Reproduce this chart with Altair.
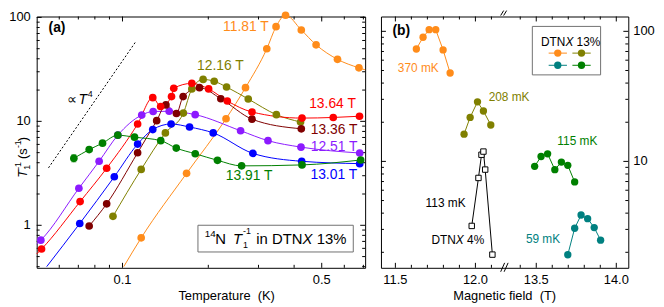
import altair as alt
import pandas as pd

FONT = "Liberation Sans"
ONE = pd.DataFrame({"k": [0]})

# ---------------- panel (a): 14N T1^-1 vs temperature ----------------
series_a = ["11.81 T", "12.16 T", "12.51 T", "13.01 T", "13.36 T", "13.64 T", "13.91 T"]
colors_a = ["#ff8c1a", "#808000", "#8c1aff", "#0000ff", "#800000", "#ff0000", "#008000"]

T_1181 = [0.1163, 0.1678, 0.2308, 0.2701, 0.3208, 0.3457, 0.3733, 0.4239, 0.4777, 0.5679, 0.6752]
R_1181 = [0.757, 3.16, 10.6, 21.1, 49.9, 81.5, 105.0, 75.7, 54.5, 39.5, 32.7]
T_1216 = [0.0926, 0.1163, 0.1414, 0.1635, 0.1751, 0.1918, 0.2098, 0.2318, 0.2762, 0.3466, 0.4213]
R_1216 = [1.22, 3.45, 7.74, 12.0, 20.5, 25.3, 24.3, 21.4, 16.4, 11.6, 9.85]
T_1251 = [0.0517, 0.0703, 0.0828, 0.0963, 0.1168, 0.1281, 0.1458, 0.1799, 0.2596, 0.3239, 0.4229, 0.6795]
R_1251 = [0.72, 2.27, 4.13, 7.36, 11.5, 12.45, 12.5, 11.6, 8.12, 6.52, 5.65, 4.96]
T_1301 = [0.0708, 0.0936, 0.1130, 0.1277, 0.1481, 0.1719, 0.2081, 0.2867, 0.4253, 0.6795]
R_1301 = [1.04, 2.93, 6.04, 8.34, 9.43, 8.82, 7.74, 4.92, 4.13, 3.92]
T_1336 = [0.0764, 0.0880, 0.1130, 0.1318, 0.1420, 0.1546, 0.1632, 0.1862, 0.2213, 0.2847, 0.4239]
R_1336 = [0.985, 1.61, 4.99, 10.15, 14.4, 11.9, 17.3, 21.1, 16.5, 10.5, 8.48]
T_1364 = [0.0520, 0.0710, 0.0880, 0.1130, 0.1277, 0.1361, 0.1486, 0.1513, 0.1751, 0.2005, 0.2332, 0.2847, 0.4264, 0.5487, 0.6784]
R_1364 = [0.591, 1.69, 3.54, 9.43, 16.9, 13.9, 17.3, 20.8, 23.2, 20.5, 15.7, 12.3, 10.75, 10.9, 11.2]
T_1391 = [0.0675, 0.0764, 0.0851, 0.0963, 0.1102, 0.1362, 0.1544, 0.1800, 0.2154, 0.2617, 0.4264, 0.6849]
R_1391 = [4.41, 5.35, 6.17, 7.36, 7.04, 6.52, 5.53, 4.88, 4.22, 3.73, 3.81, 4.25]

# error bar on first 13.91 T point
err_T = [0.0675]
err_lo = [4.08]
err_hi = [4.77]

# where the drawn curves leave the frame
curve_start_T = {"11.81 T": 0.101, "12.51 T": 0.05, "13.01 T": 0.0542, "13.64 T": 0.05}
curve_start_R = {"11.81 T": 0.40, "12.51 T": 0.66, "13.01 T": 0.40, "13.64 T": 0.53}
curve_end_T = {"11.81 T": 0.71}
curve_end_R = {"11.81 T": 31.3}

# dotted T^4 guide (end points)
guide_T = [0.055, 0.111]
guide_R = [3.57, 57.8]

# axis ticks and labels
xa_major = [0.1, 0.5]
xa_labels = ["0.1", "0.5"]
xa_minor = [0.06, 0.07, 0.08, 0.09, 0.2, 0.3, 0.4, 0.6, 0.7]
ya_major = [1, 10, 100]
ya_labels = ["1", "10", "100"]
ya_minor = [0.4, 0.5, 0.6, 0.7, 0.8, 0.9, 2, 3, 4, 5, 6, 7, 8, 9, 20, 30, 40, 50, 60, 70, 80, 90]

# ---------------- panel (b): T1^-1 vs field ----------------
series_b = ["370 mK", "208 mK", "115 mK", "59 mK", "DTNX 4% 113 mK"]
colors_b = ["#ff8c1a", "#808000", "#008000", "#008080", "#000000"]
B_370 = [11.631, 11.673, 11.711, 11.752, 11.798, 11.842]
R_370 = [73.2, 90.0, 103.0, 103.0, 72.0, 47.8]
B_208 = [11.929, 11.967, 12.013, 12.050, 12.096]
R_208 = [16.2, 21.8, 28.7, 24.4, 19.05]
B_115 = [13.490, 13.530, 13.571, 13.616, 13.657, 13.697, 13.740]
R_115 = [9.16, 10.9, 11.44, 8.64, 9.88, 9.32, 6.95]
B_59 = [13.697, 13.740, 13.780, 13.821, 13.862, 13.902]
R_59 = [1.915, 3.06, 3.87, 3.63, 3.10, 2.48]
B_4pc = [11.977, 12.019, 12.038, 12.050, 12.061, 12.106]
R_4pc = [3.19, 7.46, 11.25, 11.9, 8.65, 1.92]

xb_major = [11.5, 12.0, 13.5, 14.0]
xb_labels = ["11.5", "12.0", "13.5", "14.0"]
xb_minor = [11.6, 11.7, 11.8, 11.9, 12.1, 13.4, 13.6, 13.7, 13.8, 13.9]
yb_major = [10, 100]
yb_labels = ["10", "100"]
yb_minor = [2, 3, 4, 5, 6, 7, 8, 9, 20, 30, 40, 50, 60, 70, 80, 90]
SHIFT = 1.12  # width of the cut-out field range

# ---------------- build tables ----------------
a_T = [T_1181, T_1216, T_1251, T_1301, T_1336, T_1364, T_1391]
a_R = [R_1181, R_1216, R_1251, R_1301, R_1336, R_1364, R_1391]
rows, lrows = [], []
for s, ts, rs in zip(series_a, a_T, a_R):
    for t, r in zip(ts, rs):
        rows.append({"s": s, "T": t, "R": r})
    pts = list(zip(ts, rs))
    if s in curve_start_T:
        pts = [(curve_start_T[s], curve_start_R[s])] + pts
    if s in curve_end_T:
        pts = pts + [(curve_end_T[s], curve_end_R[s])]
    for t, r in pts:
        lrows.append({"s": s, "T": t, "R": r})
df_a = pd.DataFrame(rows)
df_al = pd.DataFrame(lrows)
df_err = pd.DataFrame({"T": err_T, "lo": err_lo, "hi": err_hi})
df_guide = pd.DataFrame({"T": guide_T, "R": guide_R})

b_B = [B_370, B_208, B_115, B_59, B_4pc]
b_R = [R_370, R_208, R_115, R_59, R_4pc]
brows = []
for s, bs, rs in zip(series_b, b_B, b_R):
    for b, r in zip(bs, rs):
        brows.append({"sb": s, "B": b, "RB": r})
df_b = pd.DataFrame(brows)

W_A, W_B, H = 332, 250, 254
xA = alt.Scale(type="log", domain=[0.05, 0.71], nice=False)
yA = alt.Scale(type="log", domain=[0.39, 102], nice=False)
xB = alt.Scale(domain=[11.41, 12.955], nice=False, zero=False)
yB = alt.Scale(type="log", domain=[1.52, 130], nice=False)
CUT = f"datum.v > 13 ? datum.v - {SHIFT} : datum.v"


def tick_layer(vals, ch, scale, side, length, W, fx, fy, calc=None):
    c = alt.Chart(pd.DataFrame({"v": vals}))
    if calc:
        c = c.transform_calculate(**{fx: calc})
    else:
        c = c.transform_calculate(**{(fx if ch == "x" else fy): "datum.v"})
    if ch == "x":
        enc = {"x": alt.X(f"{fx}:Q", scale=scale, axis=None)}
        if side == "top":
            enc.update(y=alt.value(0), y2=alt.value(length))
        else:
            enc.update(y=alt.value(H), y2=alt.value(H - length))
    else:
        enc = {"y": alt.Y(f"{fy}:Q", scale=scale, axis=None)}
        if side == "left":
            enc.update(x=alt.value(0), x2=alt.value(length))
        else:
            enc.update(x=alt.value(W), x2=alt.value(W - length))
    return c.mark_rule(color="black", strokeWidth=1).encode(**enc)


def all_ticks(xmaj, xmin, ymaj, ymin, xs, ys, W, fx, fy, calc=None):
    out = []
    for side in ["top", "bottom"]:
        out.append(tick_layer(xmaj, "x", xs, side, 5, W, fx, fy, calc))
        out.append(tick_layer(xmin, "x", xs, side, 3, W, fx, fy, calc))
    for side in ["left", "right"]:
        out.append(tick_layer(ymaj, "y", ys, side, 5, W, fx, fy))
        out.append(tick_layer(ymin, "y", ys, side, 3, W, fx, fy))
    return out


def tick_labels(vals, labels, ch, scale, field, pos, align, calc=None):
    c = alt.Chart(pd.DataFrame({"v": vals, "lab": labels}))
    c = c.transform_calculate(**{field: calc if calc else "datum.v"})
    mk = c.mark_text(font=FONT, fontSize=13, color="black", align=align, baseline="middle")
    if ch == "x":
        return mk.encode(x=alt.X(f"{field}:Q", scale=scale, axis=None), y=alt.value(pos),
                         text="lab:N")
    return mk.encode(y=alt.Y(f"{field}:Q", scale=scale, axis=None), x=alt.value(pos),
                     text="lab:N")


def txt(text, x, y, color="black", size=14, align="center", baseline="middle",
        style="normal", weight="normal", angle=0, dx=0, dy=0):
    return alt.Chart(ONE).mark_text(
        text=text, color=color, fontSize=size, font=FONT, align=align,
        baseline=baseline, fontStyle=style, fontWeight=weight, angle=angle,
        dx=dx, dy=dy).encode(x=alt.value(x), y=alt.value(y))


def box(x1, y1, x2, y2):
    return alt.Chart(ONE).mark_rect(fill="white", stroke="#707070", strokeWidth=1).encode(
        x=alt.value(x1), x2=alt.value(x2), y=alt.value(y1), y2=alt.value(y2))


def seg(x1, y1, x2, y2, color="black"):
    return alt.Chart(ONE).mark_rule(color=color, strokeWidth=1).encode(
        x=alt.value(x1), x2=alt.value(x2), y=alt.value(y1), y2=alt.value(y2))


def dot(x, y, color):
    return alt.Chart(ONE).mark_circle(size=55, opacity=1, color=color).encode(
        x=alt.value(x), y=alt.value(y))


colA = alt.Color("s:N", scale=alt.Scale(domain=series_a, range=colors_a), legend=None)
colB = alt.Color("sb:N", scale=alt.Scale(domain=series_b, range=colors_b), legend=None)

# ---------- panel (a) layers ----------
pts_a = alt.Chart(df_a).mark_circle(size=60, opacity=1).encode(
    x=alt.X("T:Q", scale=xA, axis=None), y=alt.Y("R:Q", scale=yA, axis=None), color=colA)
guide = alt.Chart(df_guide).mark_line(color="black", strokeWidth=1, strokeDash=[2, 2]).encode(
    x=alt.X("T:Q", scale=xA, axis=None), y=alt.Y("R:Q", scale=yA, axis=None))
lines_a = alt.Chart(df_al).mark_line(strokeWidth=1, interpolate="monotone").encode(
    x=alt.X("T:Q", scale=xA, axis=None), y=alt.Y("R:Q", scale=yA, axis=None), color=colA,
    detail="s:N")
err = alt.Chart(df_err).mark_rule(color="#008000", strokeWidth=1).encode(
    x=alt.X("T:Q", scale=xA, axis=None), y=alt.Y("lo:Q", scale=yA, axis=None), y2="hi:Q")
cap_lo = alt.Chart(df_err).mark_tick(color="#008000", orient="horizontal", size=5, thickness=1).encode(
    x=alt.X("T:Q", scale=xA, axis=None), y=alt.Y("lo:Q", scale=yA, axis=None))
cap_hi = alt.Chart(df_err).mark_tick(color="#008000", orient="horizontal", size=5, thickness=1).encode(
    x=alt.X("T:Q", scale=xA, axis=None), y=alt.Y("hi:Q", scale=yA, axis=None))

texts_a = [
    txt("(a)", 20.5, 12, size=14, weight="bold"),
    txt("11.81 T", 211.5, 11, color=colors_a[0]),
    txt("12.16 T", 185.7, 50.3, color=colors_a[1]),
    txt("13.64 T", 299, 88.7, color=colors_a[5]),
    txt("13.36 T", 300.7, 114.3, color=colors_a[4]),
    txt("12.51 T", 300.7, 132, color=colors_a[2]),
    txt("13.01 T", 300.3, 160.3, color=colors_a[3]),
    txt("13.91 T", 214.8, 161.7, color=colors_a[6]),
    # proportional-to T^4 note
    txt("\u221d", 30.7, 88, size=14, align="left", baseline="alphabetic"),
    txt("T", 42.3, 88, size=14, align="left", baseline="alphabetic", style="italic"),
    txt("4", 51.5, 81, size=9, align="left", baseline="alphabetic"),
    # boxed caption
    box(163, 211, 320, 238),
    txt("14", 170, 223, size=10, align="left", baseline="alphabetic"),
    txt("N", 180.5, 230.4, size=15, align="left", baseline="alphabetic"),
    txt("T", 198.5, 230.4, size=15, align="left", baseline="alphabetic", style="italic"),
    txt("1", 208.5, 233.5, size=9, align="left", baseline="alphabetic"),
    txt("-1", 208.5, 220, size=9, align="left", baseline="alphabetic"),
    txt("in DTN", 222, 230.4, size=15, align="left", baseline="alphabetic"),
    txt("X", 268.7, 230.4, size=15, align="left", baseline="alphabetic", style="italic"),
    txt("13%", 283, 230.4, size=15, align="left", baseline="alphabetic"),
    # y-axis title (rotated)
    txt("T", -10, 163, size=13, align="left", baseline="alphabetic", style="italic", angle=270),
    txt("1", -10, 163, size=9, align="left", baseline="alphabetic", angle=270, dx=8, dy=3),
    txt("-1", -10, 163, size=9, align="left", baseline="alphabetic", angle=270, dx=8, dy=-6),
    txt("(s", -10, 163, size=13, align="left", baseline="alphabetic", angle=270, dx=19),
    txt("-1", -10, 163, size=9, align="left", baseline="alphabetic", angle=270, dx=30, dy=-6),
    txt(")", -10, 163, size=13, align="left", baseline="alphabetic", angle=270, dx=37),
    # x-axis title
    txt("Temperature\u00a0 (K)", 192, 283, size=13),
]

panel_a = alt.layer(
    *all_ticks(xa_major, xa_minor, ya_major, ya_minor, xA, yA, W_A, "T", "R"),
    tick_labels(xa_major, xa_labels, "x", xA, "T", H + 12, "center"),
    tick_labels(ya_major, ya_labels, "y", yA, "R", -6, "right"),
    guide, lines_a, err, cap_lo, cap_hi, pts_a, *texts_a,
).properties(width=W_A, height=H)

# ---------- panel (b) layers ----------
base_b = alt.Chart(df_b).transform_calculate(u=f"datum.B > 13 ? datum.B - {SHIFT} : datum.B")
lines_b = base_b.mark_line(strokeWidth=1).encode(
    x=alt.X("u:Q", scale=xB, axis=None), y=alt.Y("RB:Q", scale=yB, axis=None), color=colB,
    detail="sb:N")
pts_b = base_b.transform_filter(f"datum.sb != '{series_b[4]}'").mark_circle(size=55, opacity=1).encode(
    x=alt.X("u:Q", scale=xB, axis=None), y=alt.Y("RB:Q", scale=yB, axis=None), color=colB)
sq_b = base_b.transform_filter(f"datum.sb == '{series_b[4]}'").mark_point(
    shape="square", size=30, fill="white", stroke="black", strokeWidth=1, opacity=1, filled=False).encode(
    x=alt.X("u:Q", scale=xB, axis=None), y=alt.Y("RB:Q", scale=yB, axis=None))

texts_b = [
    txt("(b)", 20.5, 14.3, size=14, weight="bold"),
    txt("370 mK", 37.7, 51.7, color=colors_b[0], size=12),
    txt("208 mK", 129.5, 81, color=colors_b[1], size=12),
    txt("115 mK", 198.5, 126, color=colors_b[2], size=12),
    txt("59 mK", 163.8, 225.3, color=colors_b[3], size=12),
    txt("113 mK", 65.3, 188.3, size=12),
    txt("DTN", 51, 230.3, size=12, align="left", baseline="alphabetic"),
    txt("X", 75.7, 230.3, size=12, align="left", baseline="alphabetic", style="italic"),
    txt("4%", 87, 230.3, size=12, align="left", baseline="alphabetic"),
    # legend
    box(153, 10, 222, 59),
    txt("DTN", 161.7, 29.3, size=12, align="left", baseline="alphabetic"),
    txt("X", 186.4, 29.3, size=12, align="left", baseline="alphabetic", style="italic"),
    txt("13%", 197.7, 29.3, size=12, align="left", baseline="alphabetic"),
    seg(169.5, 37, 188, 37, colors_b[0]), dot(178.7, 37, colors_b[0]),
    seg(193.5, 37, 212, 37, colors_b[1]), dot(202.7, 37, colors_b[1]),
    seg(169.5, 49.3, 188, 49.3, colors_b[3]), dot(178.7, 49.3, colors_b[3]),
    seg(193.5, 49.3, 212, 49.3, colors_b[2]), dot(202.7, 49.3, colors_b[2]),
    # axis break marks
    seg(121, -1, 124, -6), seg(124, -1, 127, -6),
    seg(121, 258, 125, 249), seg(124.5, 258, 128.5, 249),
    # x-axis title
    txt("Magnetic field\u00a0 (T)", 125, 283, size=13),
]

panel_b = alt.layer(
    *all_ticks(xb_major, xb_minor, yb_major, yb_minor, xB, yB, W_B, "u", "RB", calc=CUT),
    tick_labels(xb_major, xb_labels, "x", xB, "u", H + 12, "center", calc=CUT),
    tick_labels(yb_major, yb_labels, "y", yB, "RB", W_B + 5, "left"),
    lines_b, pts_b, sq_b, *texts_b,
).properties(width=W_B, height=H)

chart = alt.hconcat(panel_a, panel_b, spacing=16, bounds="flush").resolve_scale(
    x="independent", y="independent", color="independent"
).properties(
    padding={"left": 0, "top": 0, "right": 0, "bottom": 0}
).configure_view(stroke="black", strokeWidth=1)

chart.save("out.html", embed_options={"renderer": "svg", "actions": False})
